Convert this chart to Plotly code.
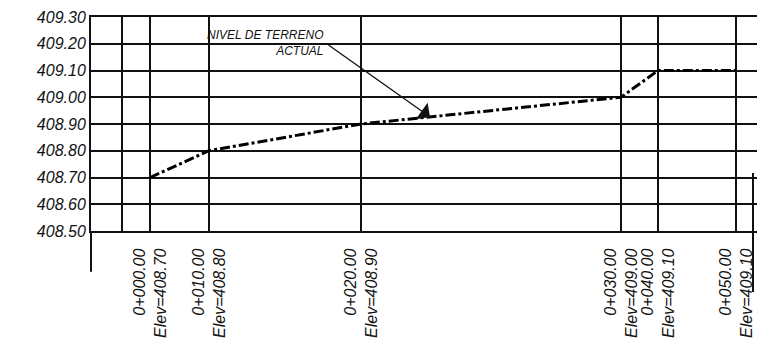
import numpy as np
import plotly.graph_objects as go

# Perfil de terreno: estaciones, abscisa de dibujo y elevaciones
estaciones = [0, 10, 20, 30, 40, 50]
x_dibujo = [59, 118, 270, 530, 567, 645]
elevaciones = [408.70, 408.80, 408.90, 409.00, 409.10, 409.10]

# lineas verticales de la cuadricula (incluye una sin estacion)
x_cuadricula = [31] + x_dibujo
y_ticks = [408.50, 408.60, 408.70, 408.80, 408.90, 409.00, 409.10, 409.20, 409.30]

FUENTE = "Liberation Sans, Arial, sans-serif"
NEGRO = "#111111"

fig = go.Figure()
fig.add_trace(go.Scatter(
    x=x_dibujo,
    y=elevaciones,
    mode="lines",
    line={"color": "black", "width": 3, "dash": "10px,3px,3px,3px"},
    hoverinfo="skip",
    showlegend=False,
))

# etiquetas de estacion / elevacion, giradas
for s, xd, el in zip(estaciones, x_dibujo, elevaciones):
    fig.add_annotation(
        x=xd, xref="x", y=-0.07, yref="paper",
        text=f"0+{s:06.2f}<br>Elev={el:.2f}",
        textangle=-90, align="right",
        xanchor="center", yanchor="top",
        showarrow=False,
        font={"family": FUENTE, "size": 16, "color": NEGRO, "style": "italic"},
    )

# nota con flecha
x_cola, y_cola = 236, 409.199
x_punta = 339
y_punta = float(np.interp(x_punta, x_dibujo, elevaciones))
fig.add_annotation(
    x=x_punta, y=y_punta, xref="x", yref="y",
    ax=x_cola, ay=y_cola, axref="x", ayref="y",
    text="", showarrow=True,
    arrowhead=1, arrowsize=2.6, arrowwidth=1.3, arrowcolor=NEGRO,
)
fig.add_annotation(
    x=234, y=409.268, xref="x", yref="y",
    text="NIVEL DE TERRENO<br>ACTUAL",
    align="right", xanchor="right", yanchor="top",
    showarrow=False,
    font={"family": FUENTE, "size": 12, "color": NEGRO, "style": "italic"},
)

# prolongaciones de los bordes
fig.add_shape(type="line", xref="paper", yref="paper",
              x0=0, x1=0, y0=0, y1=-0.19,
              line={"color": NEGRO, "width": 2})
fig.add_shape(type="line", xref="paper", yref="paper",
              x0=0.994, x1=0.994, y0=0.271, y1=-0.285,
              line={"color": NEGRO, "width": 2})

fig.update_xaxes(
    range=[0, 666], tickvals=x_cuadricula, showticklabels=False,
    showgrid=True, gridcolor=NEGRO, gridwidth=2,
    showline=True, mirror=True, linecolor=NEGRO, linewidth=2,
    zeroline=False, ticks="",
)
fig.update_yaxes(
    range=[408.5, 409.3], tickvals=y_ticks, tickformat=".2f",
    showgrid=True, gridcolor=NEGRO, gridwidth=2,
    showline=True, linecolor=NEGRO, linewidth=2,
    zeroline=False, ticks="",
    tickfont={"family": FUENTE, "size": 16, "color": NEGRO, "style": "italic"},
)
fig.update_layout(
    width=763, height=349,
    margin={"l": 91, "r": 6, "t": 17, "b": 118},
    plot_bgcolor="white", paper_bgcolor="white",
)

fig.write_html("out.html", config={"displayModeBar": False},
               post_script="document.body.style.margin='0';")
